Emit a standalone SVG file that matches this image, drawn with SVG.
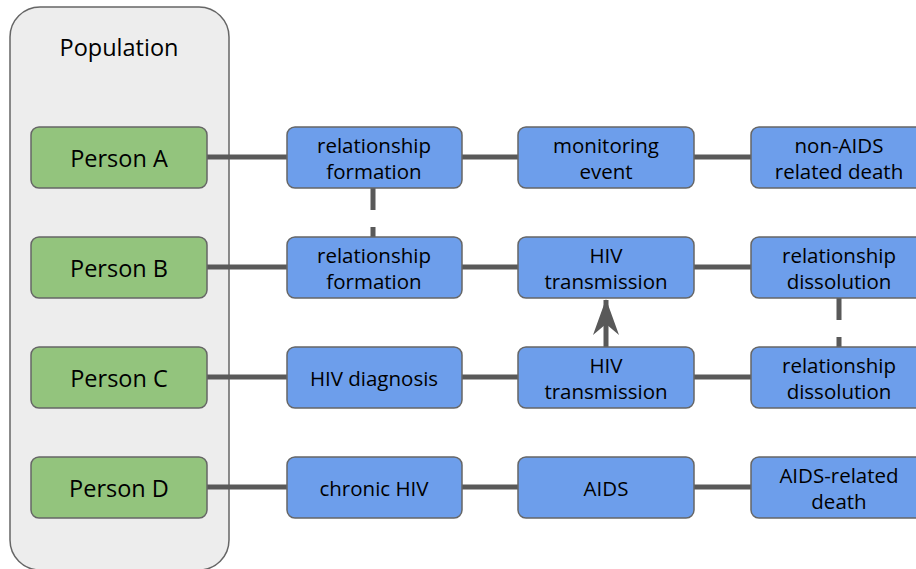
<svg xmlns="http://www.w3.org/2000/svg" width="916" height="569" viewBox="0 0 916 569">
<style>
text{font-family:"Open Sans","Noto Sans","DejaVu Sans",sans-serif;fill:#000;text-anchor:middle;dominant-baseline:central}
.pop{fill:#ededed;stroke:#666;stroke-width:1.5}
.person{fill:#93c47d;stroke:#666;stroke-width:1.5}
.ev{fill:#6d9eeb;stroke:#666;stroke-width:1.5}
.pt{font-size:23.5px}
.et{font-size:20.5px}
.c{stroke:#595959;stroke-width:5;fill:none}
.d{stroke:#595959;stroke-width:5;fill:none;stroke-dasharray:22 17}
</style>
<defs>
<marker id="ah" markerUnits="userSpaceOnUse" markerWidth="36" markerHeight="26" viewBox="0 0 36 26" refX="35" refY="13" orient="auto">
<path d="M0,0 L36,13 L0,26 L11,13 Z" fill="#595959"/>
</marker>
</defs>
<g id="population">
<rect class="pop" x="10" y="7" width="219" height="563" rx="30"/>
<text x="119" y="47" class="pt">Population</text>
</g>
<g id="connectors">
<line class="c" x1="207" y1="157" x2="287" y2="157"/>
<line class="c" x1="462" y1="157" x2="518" y2="157"/>
<line class="c" x1="694" y1="157" x2="751" y2="157"/>
<line class="c" x1="207" y1="267" x2="287" y2="267"/>
<line class="c" x1="462" y1="267" x2="518" y2="267"/>
<line class="c" x1="694" y1="267" x2="751" y2="267"/>
<line class="c" x1="207" y1="377" x2="287" y2="377"/>
<line class="c" x1="462" y1="377" x2="518" y2="377"/>
<line class="c" x1="694" y1="377" x2="751" y2="377"/>
<line class="c" x1="207" y1="487" x2="287" y2="487"/>
<line class="c" x1="462" y1="487" x2="518" y2="487"/>
<line class="c" x1="694" y1="487" x2="751" y2="487"/>
<line class="d" x1="373" y1="188" x2="373" y2="237"/>
<line class="d" x1="839" y1="298" x2="839" y2="347"/>
<line class="c" x1="606" y1="347" x2="606" y2="300" marker-end="url(#ah)"/>
</g>
<g id="personA"><rect class="person" x="31" y="127" width="176" height="61" rx="8"/><text x="119" y="158" class="pt">Person A</text></g>
<g id="personB"><rect class="person" x="31" y="237" width="176" height="61" rx="8"/><text x="119" y="268" class="pt">Person B</text></g>
<g id="personC"><rect class="person" x="31" y="347" width="176" height="61" rx="8"/><text x="119" y="378" class="pt">Person C</text></g>
<g id="personD"><rect class="person" x="31" y="457" width="176" height="61" rx="8"/><text x="119" y="488" class="pt">Person D</text></g>

<g id="a1"><rect class="ev" x="287" y="127" width="175" height="61" rx="8"/><text x="374" y="145" class="et">relationship</text><text x="374" y="171" class="et">formation</text></g>
<g id="a2"><rect class="ev" x="518" y="127" width="176" height="61" rx="8"/><text x="606" y="145" class="et">monitoring</text><text x="606" y="171" class="et">event</text></g>
<g id="a3"><rect class="ev" x="751" y="127" width="176" height="61" rx="8"/><text x="839" y="145" class="et">non-AIDS</text><text x="839" y="171" class="et">related death</text></g>

<g id="b1"><rect class="ev" x="287" y="237" width="175" height="61" rx="8"/><text x="374" y="255" class="et">relationship</text><text x="374" y="281" class="et">formation</text></g>
<g id="b2"><rect class="ev" x="518" y="237" width="176" height="61" rx="8"/><text x="606" y="255" class="et">HIV</text><text x="606" y="281" class="et">transmission</text></g>
<g id="b3"><rect class="ev" x="751" y="237" width="176" height="61" rx="8"/><text x="839" y="255" class="et">relationship</text><text x="839" y="281" class="et">dissolution</text></g>

<g id="c1"><rect class="ev" x="287" y="347" width="175" height="61" rx="8"/><text x="374" y="378" class="et">HIV diagnosis</text></g>
<g id="c2"><rect class="ev" x="518" y="347" width="176" height="61" rx="8"/><text x="606" y="365" class="et">HIV</text><text x="606" y="391" class="et">transmission</text></g>
<g id="c3"><rect class="ev" x="751" y="347" width="176" height="61" rx="8"/><text x="839" y="365" class="et">relationship</text><text x="839" y="391" class="et">dissolution</text></g>

<g id="d1"><rect class="ev" x="287" y="457" width="175" height="61" rx="8"/><text x="374" y="488" class="et">chronic HIV</text></g>
<g id="d2"><rect class="ev" x="518" y="457" width="176" height="61" rx="8"/><text x="606" y="488" class="et">AIDS</text></g>
<g id="d3"><rect class="ev" x="751" y="457" width="176" height="61" rx="8"/><text x="839" y="475" class="et">AIDS-related</text><text x="839" y="501" class="et">death</text></g>
</svg>
